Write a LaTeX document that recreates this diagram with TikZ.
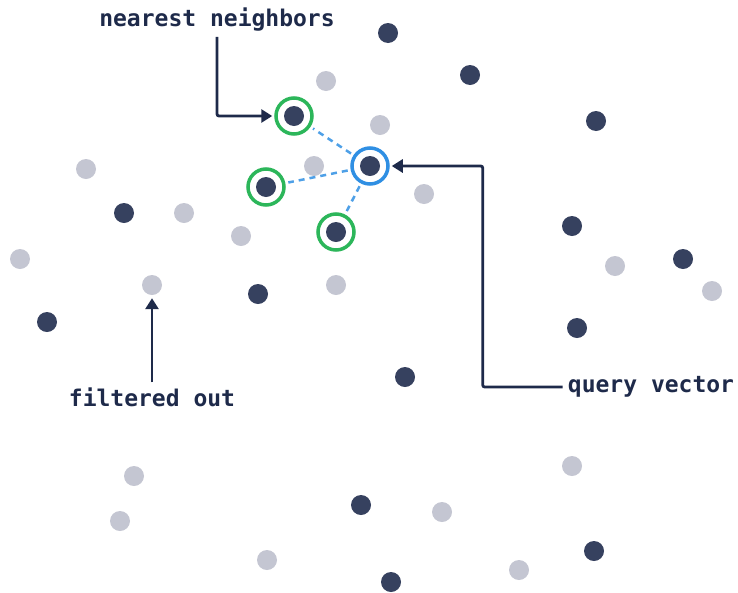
\documentclass[tikz,border=0pt]{standalone}
\usepackage{fontspec}
\setmonofont{DejaVu Sans Mono}
\usetikzlibrary{arrows.meta}
\definecolor{navy}{HTML}{1E2A4A}
\definecolor{dotdark}{HTML}{36415F}
\definecolor{dotlight}{HTML}{C4C6D2}
\definecolor{ringgreen}{HTML}{2CB65A}
\definecolor{ringblue}{HTML}{2F8FE3}
\tikzset{
  dot/.style={circle, inner sep=0pt, minimum size=20pt},
  ring/.style={circle, inner sep=0pt, minimum size=36pt, line width=3.5pt},
  lbl/.style={font=\ttfamily\bfseries\fontsize{23}{27}\selectfont, text=navy, inner sep=5pt},
  ptr/.style={draw=navy, line width=2.8pt, rounded corners=2pt, -{Triangle[length=11pt,width=13pt]}},
  link/.style={draw=ringblue!85, line width=2.5pt, dash pattern=on 6pt off 5pt, shorten <=3pt, shorten >=3pt}
}
\begin{document}
\begin{tikzpicture}[x=1pt,y=-1pt]
    \useasboundingbox (0,0) rectangle (738,592);
    % background points
    \foreach \x/\y in {388/33,470/75,596/121,124/213,572/226,683/259,258/294,
        47/322,577/328,405/377,361/505,594/551,391/582}
        \fill [dotdark] (\x,\y) circle (10);
    \foreach \x/\y in {326/81,380/125,86/169,314/166,424/194,184/213,241/236,
        20/259,615/266,712/291,336/285,572/466,134/476,442/512,120/521,
        267/560,519/570}
        \fill [dotlight] (\x,\y) circle (10);
    % query and its neighbours
    \node [dot, fill=dotdark] (q) at (370,166) {};
    \node [dot, fill=dotdark] (n1) at (294,116) {};
    \node [dot, fill=dotdark] (n2) at (266,187) {};
    \node [dot, fill=dotdark] (n3) at (336,232) {};
    \node [dot, fill=dotlight] (f) at (152,285) {};
    \node [ring, draw=ringblue] (qr) at (q) {};
    \foreach \n in {n1,n2,n3}
        \node [ring, draw=ringgreen] (\n r) at (\n) {};
    \foreach \n in {n1,n2,n3}
        \draw [link] (qr) -- (\n r);
    % labels
    \node [lbl] (nlbl) at (217,20) {nearest neighbors};
    \node [lbl] (qlbl) at (651,387) {query vector};
    \node [lbl] (flbl) at (152,397) {filtered out};
    \draw [ptr] (nlbl.south) |- ([xshift=-2pt]n1r.west);
    \draw [ptr] (qlbl.west) -- ++(-80,0) |- ([xshift=2pt]qr.east);
    \draw [ptr] (flbl.north) -- ([yshift=-3pt]f.south);
\end{tikzpicture}
\end{document}
